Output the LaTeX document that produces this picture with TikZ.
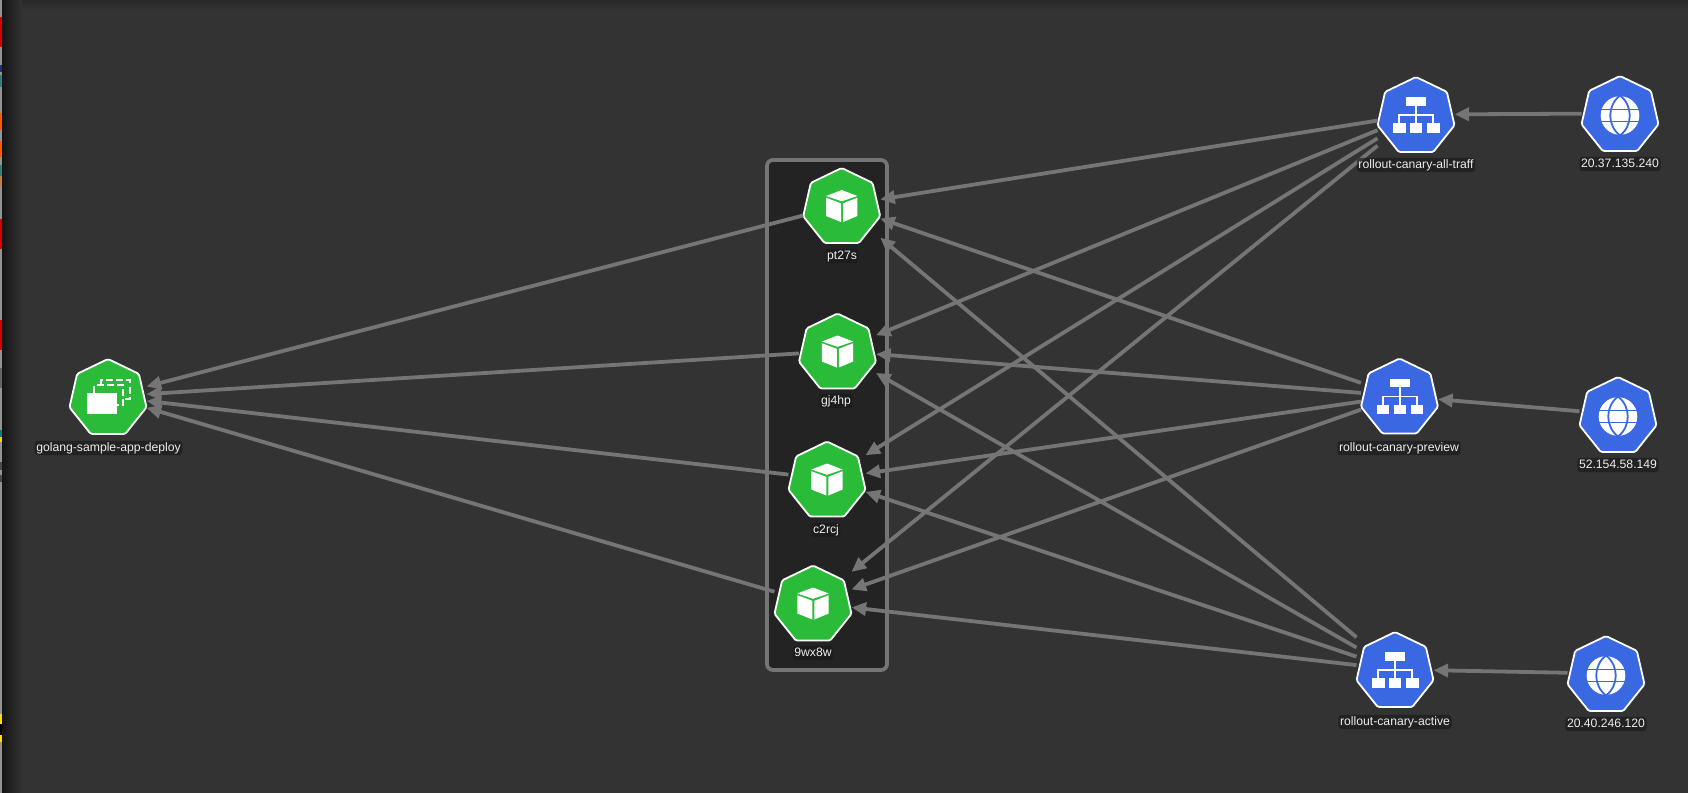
\documentclass[tikz,border=0pt]{standalone}
\usepackage{fontspec}
\setmainfont{Liberation Sans}
\usetikzlibrary{shapes.geometric,arrows.meta}
\definecolor{bgc}{HTML}{333333}
\definecolor{boxfill}{HTML}{232323}
\definecolor{edgec}{HTML}{757575}
\definecolor{green}{HTML}{2ABB38}
\definecolor{blue}{HTML}{3A68E2}
\tikzset{
  x=0.5pt,y=-0.5pt,
  kube/.style={regular polygon,regular polygon sides=7,minimum size=39.5pt,inner sep=0pt,outer sep=0pt,draw=white,line width=0.9pt,rounded corners=0.8pt},
  hitbox/.style={rectangle,minimum width=38.5pt,minimum height=38pt,inner sep=0pt,outer sep=0pt},
  lab/.style={font=\fontsize{6.1pt}{7pt}\selectfont,text=white!93!black,fill=black!90,fill opacity=0.62,text opacity=1,inner xsep=0.8pt,inner ysep=0.6pt,rounded corners=1.5pt,text height=4.6pt,text depth=1.3pt},
  edge/.style={draw=edgec,line width=1.9pt,-{Triangle[length=7.3pt,width=6.5pt]}},
  ic/.style={fill=white,draw=none},
}
\newcommand{\kubenode}[4]{\node[hitbox] (#1) at ({#3},{#4-2}) {};\node[kube,fill=#2] (#1-poly) at ({#3},{#4}) {};}
\newcommand{\cubeicon}[1]{\begin{scope}[shift={(#1-poly)}]
 \fill[ic] (-15.7,-11.5)--(0,-17.5)--(15.7,-11.5)--(0,-6.2)--cycle;
 \fill[ic] (-15.7,-9.8)--(-0.7,-4.2)--(-0.7,14.5)--(-15.7,8.5)--cycle;
 \fill[ic] (1.3,-4.2)--(15.7,-9.8)--(15.7,8.5)--(1.3,14.5)--cycle;
\end{scope}}
\newcommand{\svcicon}[1]{\begin{scope}[shift={(#1-poly)}]
 \fill[ic] (-9.7,-19.2) rectangle (10.3,-10.8);
 \fill[ic] (-23,6.8) rectangle (-10.3,16.2);
 \fill[ic] (-6,6.8) rectangle (6.3,16.2);
 \fill[ic] (11,6.8) rectangle (23.7,16.2);
 \draw[white,line width=0.9pt] (0.2,-10.8)--(0.2,6.8) (-16.7,6.8)--(-16.7,-1.5)--(17.3,-1.5)--(17.3,6.8);
\end{scope}}
\newcommand{\globeicon}[1]{\begin{scope}[shift={(#1-poly)}]
 \fill[ic] (0,0) circle (19.3);
 \draw[blue,line width=0.9pt] (0,-20) .. controls (-13,-10) and (-13,10) .. (0,20) .. controls (13,10) and (13,-10) .. (0,-20);
 \draw[blue,line width=0.9pt] (-20,-6)--(20,-6) (-20,6)--(20,6);
\end{scope}}
\newcommand{\deployicon}[1]{\begin{scope}[shift={(#1-poly)}]
 \fill[ic] (-21,-6) rectangle (9,15.5);
 \draw[white,line width=1pt,dash pattern=on 3.5pt off 1.6pt] (-14,-6)--(-14,-13.5)--(15.3,-13.5)--(15.3,6.5)--(9,6.5);
 \draw[white,line width=1pt,dash pattern=on 3.5pt off 1.6pt] (-7.3,-13.5)--(-7.3,-18.5)--(22,-18.5)--(22,0)--(15.3,0);
\end{scope}}
\begin{document}
\begin{tikzpicture}
\useasboundingbox (0,0) rectangle (1688,793);
\fill[bgc] (0,0) rectangle (1688,793);
% vignette
\shade[top color=black!22!bgc,bottom color=bgc] (2,0) rectangle (1688,10);
\shade[left color=black!60!bgc,right color=bgc,fill opacity=1] (2,0) rectangle (22,793);
% left strip
\fill[gray!85] (0,0) rectangle (2,793);
\foreach \a/\b/\c in {17/47/red!85!black,65/72/blue!50!black,75/87/teal!60!gray,113/130/orange!70!red,141/157/orange!70!red,165/176/teal!60!gray,176/187/brown,219/249/red!85!black,320/350/red!85!black,368/388/black!60,430/437/teal,437/442/yellow!70!orange,462/470/black!70,475/482/gray!60!black,714/724/yellow!80!orange,724/735/black,735/742/yellow!80!orange}
  \fill[\c] (0,\a) rectangle (2,\b);
% group box
\draw[draw=edgec,fill=boxfill,line width=1.9pt,rounded corners=3pt] (767,160) rectangle (887,670);
% nodes
\kubenode{deploy}{green}{108}{398.5}
\kubenode{pod1}{green}{841.7}{207.5}
\kubenode{pod2}{green}{837.5}{353}
\kubenode{pod3}{green}{827}{481}
\kubenode{pod4}{green}{813}{605}
\kubenode{svc1}{blue}{1416}{116.5}
\kubenode{svc2}{blue}{1399.5}{398}
\kubenode{svc3}{blue}{1395}{671.5}
\kubenode{ip1}{blue}{1620}{115.5}
\kubenode{ip2}{blue}{1618}{416.5}
\kubenode{ip3}{blue}{1606}{675.5}
% edges
\foreach \s in {pod1,pod2,pod3,pod4} \draw[edge] (\s) -- (deploy);
\foreach \s in {svc1,svc2,svc3} \foreach \t in {pod1,pod2,pod3,pod4} \draw[edge] (\s) -- (\t);
\draw[edge] (ip1) -- (svc1);
\draw[edge] (ip2) -- (svc2);
\draw[edge] (ip3) -- (svc3);
% icons
\deployicon{deploy}
\cubeicon{pod1}\cubeicon{pod2}\cubeicon{pod3}\cubeicon{pod4}
\svcicon{svc1}\svcicon{svc2}\svcicon{svc3}
\globeicon{ip1}\globeicon{ip2}\globeicon{ip3}
% labels
\node[lab] (ldeploy) at (108.5,448) {golang-sample-app-deploy};
\node[lab] (lpod1) at (842,256) {pt27s};
\node[lab] (lpod2) at (836,401) {gj4hp};
\node[lab] (lpod3) at (826,530) {c2rcj};
\node[lab] (lpod4) at (813,653) {9wx8w};
\node[lab] (lsvc1) at (1416,165) {rollout-canary-all-traff};
\node[lab] (lsvc2) at (1399,448) {rollout-canary-preview};
\node[lab] (lsvc3) at (1395,722) {rollout-canary-active};
\node[lab] (lip1) at (1620,164) {20.37.135.240};
\node[lab] (lip2) at (1618,465) {52.154.58.149};
\node[lab] (lip3) at (1606,724) {20.40.246.120};
\end{tikzpicture}
\end{document}
